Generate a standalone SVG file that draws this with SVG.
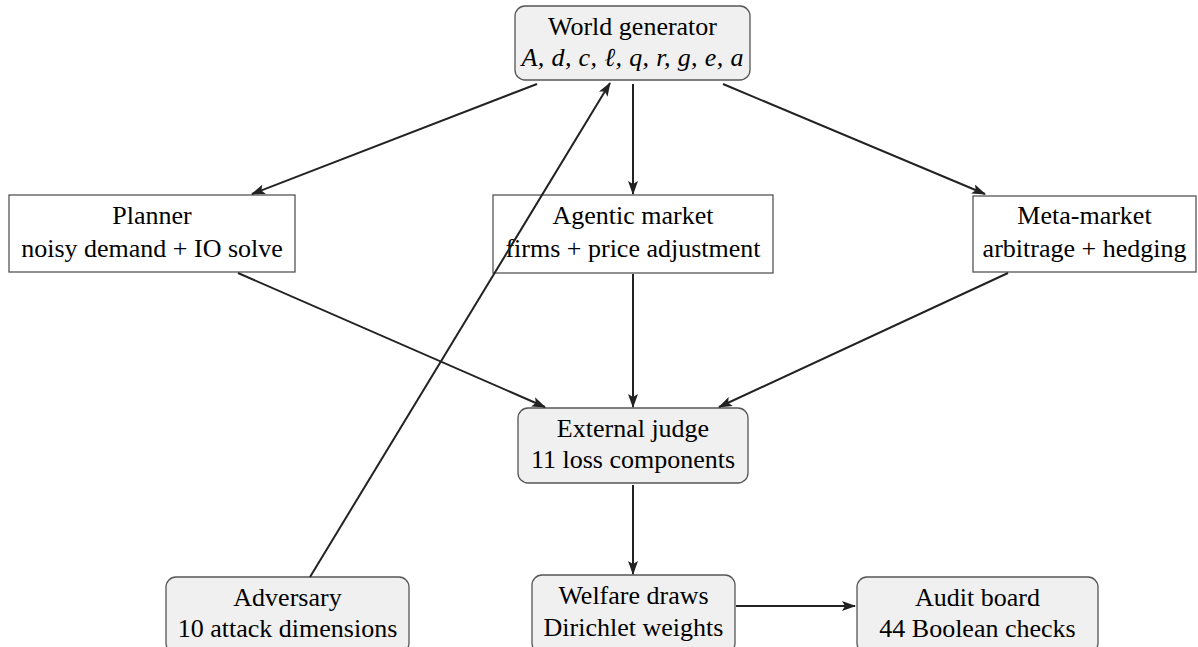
<svg xmlns="http://www.w3.org/2000/svg" width="1198" height="647" viewBox="0 0 1198 647">
<style>
.box{fill:#ffffff;stroke:#555555;stroke-width:1.3}
.rbox{fill:#f0f0f0;stroke:#555555;stroke-width:1.3}
.t{font-family:"Liberation Serif","Times New Roman",Times,serif;font-size:26px;fill:#000000;text-anchor:middle}
.m{font-style:italic}
.c{stroke:#222222;stroke-width:2;fill:none;marker-end:url(#ah)}
</style>
<defs>
<marker id="ah" viewBox="0 0 14 10" refX="13" refY="5" markerWidth="14" markerHeight="10" markerUnits="userSpaceOnUse" orient="auto">
<path d="M0,0 L14,5 L0,10 L3,5 Z" fill="#222222"/>
</marker>
</defs>
<rect width="1198" height="647" fill="#ffffff"/>
<g id="world">
<rect class="rbox" x="515" y="6" width="235" height="74" rx="10"/>
<text class="t" x="632.5" y="35">World generator</text>
<text class="t m" x="632.5" y="66" textLength="222" lengthAdjust="spacing">A, d, c, ℓ, q, r, g, e, a</text>
</g>
<g id="planner">
<rect class="box" x="9" y="195" width="286" height="77"/>
<text class="t" x="152" y="224">Planner</text>
<text class="t" x="152" y="257">noisy demand + IO solve</text>
</g>
<g id="agentic">
<rect class="box" x="493" y="195" width="280" height="78"/>
<text class="t" x="633" y="224">Agentic market</text>
<text class="t" x="633" y="257">firms + price adjustment</text>
</g>
<g id="meta">
<rect class="box" x="973" y="196" width="223" height="76"/>
<text class="t" x="1084.5" y="224">Meta-market</text>
<text class="t" x="1084.5" y="257">arbitrage + hedging</text>
</g>
<g id="judge">
<rect class="rbox" x="518" y="408" width="230" height="75" rx="10"/>
<text class="t" x="633" y="437">External judge</text>
<text class="t" x="633" y="468">11 loss components</text>
</g>
<g id="adversary">
<rect class="rbox" x="166" y="577" width="243" height="76" rx="10"/>
<text class="t" x="287.5" y="606">Adversary</text>
<text class="t" x="287.5" y="637">10 attack dimensions</text>
</g>
<g id="welfare">
<rect class="rbox" x="532" y="575" width="203" height="78" rx="10"/>
<text class="t" x="633.5" y="604">Welfare draws</text>
<text class="t" x="633.5" y="636">Dirichlet weights</text>
</g>
<g id="audit">
<rect class="rbox" x="857" y="577" width="241" height="76" rx="10"/>
<text class="t" x="977.5" y="606">Audit board</text>
<text class="t" x="977.5" y="637">44 Boolean checks</text>
</g>
<g id="connectors">
<line class="c" x1="537" y1="84" x2="252" y2="194"/>
<line class="c" x1="633" y1="84" x2="633" y2="194"/>
<line class="c" x1="723" y1="84" x2="985" y2="194"/>
<line class="c" x1="238" y1="273" x2="545" y2="407"/>
<line class="c" x1="633" y1="274" x2="633" y2="407"/>
<line class="c" x1="1008" y1="273" x2="719" y2="407"/>
<line class="c" x1="633" y1="485" x2="633" y2="574"/>
<line class="c" x1="736" y1="606" x2="855" y2="606"/>
<line class="c" x1="310" y1="577" x2="610" y2="83"/>
</g>
</svg>
